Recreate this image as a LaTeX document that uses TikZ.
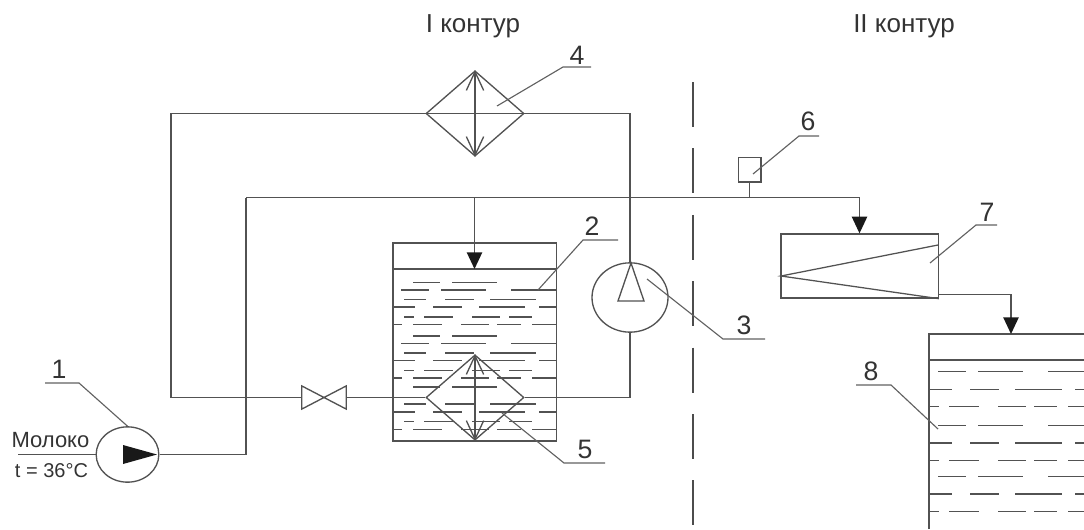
\documentclass[tikz,border=0pt]{standalone}
\usepackage{fontspec}
\setmainfont{Liberation Sans}
\usetikzlibrary{arrows.meta,shapes.geometric}

\newcommand{\liquidrow}[2]{\foreach \a/\b in #2 \draw[liquid] (\a,#1) -- (\b,#1);}
\newcommand{\rowA}{413/440,452/497}
\newcommand{\rowB}{401/429,441/486,511/556}
\newcommand{\rowC}{404/426,445/474,490/536}
\newcommand{\rowD}{393/415,433/462,479/525,539/556}
\newcommand{\rowE}{404/414,424/453,472/500,509/532}
\newcommand{\rowF}{393/402,413/442,461/489,497/521,532/556}
\newcommand{\rowG}{938/966,978/1023,1048/1084}
\newcommand{\rowH}{929/952,970/999,1015/1062,1075/1084}
\newcommand{\rowI}{929/939,949/979,998/1026,1034/1057,1068/1084}

\begin{document}
\begin{tikzpicture}[
    x=0.75pt, y=-0.75pt,
    line/.style={draw=black!68, line width=1pt},
    liquid/.style={draw=black!68, line width=0.95pt},
    leader/.style={draw=black!62, line width=0.85pt},
    flow/.style={line, -{Triangle[length=12.5pt,width=11.5pt,fill=black!90,color=black!90]}},
    twoway/.style={line, {Straight Barb[length=14pt,width=13pt]}-{Straight Barb[length=14pt,width=13pt]}},
    pump/.style={ellipse, line, inner sep=0pt},
    exchanger/.style={diamond, line, inner sep=0pt, minimum width=73.5pt, minimum height=64pt},
    num/.style={font=\fontsize{20}{20}\selectfont, text=black!80, inner sep=0pt},
    title/.style={font=\fontsize{19.5}{19.5}\selectfont, text=black!80, inner sep=0pt},
    captext/.style={font=\fontsize{15}{15}\selectfont, text=black!80, inner sep=0pt}
  ]
  \useasboundingbox (0,0) rectangle (1084,529);

  % equipment
  \node[pump, minimum width=47pt, minimum height=41.5pt] (pump1) at (127.5,454.5) {};
  \node[line, inner sep=0pt, minimum width=122.5pt, minimum height=148.5pt] (tank2) at (474.5,342) {};
  \node[pump, minimum width=57pt, minimum height=52pt] (pump3) at (630,297.5) {};
  \node[exchanger] (he4) at (475,113.5) {};
  \node[exchanger] (he5) at (475,397.5) {};
  \node[line, inner sep=0pt, minimum width=17pt, minimum height=18.5pt] (sensor6) at (749.5,169.5) {};
  \node[line, inner sep=0pt, minimum width=118pt, minimum height=48pt] (cooler7) at (859.5,266) {};
  \node[inner sep=0pt, minimum width=33pt, minimum height=17pt] (valve) at (324,397.5) {};

  % free ends
  \coordinate (inlet)   at (18,454.5);
  \coordinate (mainL)   at (246,197.5);
  \coordinate (mainT)   at (749.5,197.5);
  \coordinate (loopNW)  at (171,113.5);
  \coordinate (loopSW)  at (171,397.5);
  \coordinate (level2)  at (474.5,269);
  \coordinate (level2L) at (393,269);
  \coordinate (level2R) at (556,269);
  \coordinate (outB)    at (938,294.5);
  \coordinate (tank8NW) at (929,334);
  \coordinate (tank8NE) at (1084,334);
  \coordinate (tank8SW) at (929,529);
  \coordinate (tank8T)  at (1011,334);
  \coordinate (level8L) at (929,360);
  \coordinate (level8R) at (1084,360);
  \coordinate (sepT)    at (693,82);
  \coordinate (sepB)    at (693,529);

  % tanks
  \draw[line] (level2L) -- (level2R);
  \draw[line] (tank8SW) -- (tank8NW) -- (tank8NE);
  \draw[line] (level8L) -- (level8R);
  \foreach \y in {282.3,336,387} {\liquidrow{\y}{\rowA}}
  \foreach \y in {290,343.3} {\liquidrow{\y}{\rowB}}
  \foreach \y in {299.3,353,404} {\liquidrow{\y}{\rowC}}
  \foreach \y in {307,360.7,412} {\liquidrow{\y}{\rowD}}
  \foreach \y in {317,370.3,421.7} {\liquidrow{\y}{\rowE}}
  \foreach \y in {324.3,378,429.7} {\liquidrow{\y}{\rowF}}
  \foreach \y in {371.7,425.7,476.7} {\liquidrow{\y}{\rowG}}
  \foreach \y in {389.3,443,494} {\liquidrow{\y}{\rowH}}
  \foreach \y in {406.7,460.3,511.7} {\liquidrow{\y}{\rowI}}

  % pipes
  \draw[line] (inlet) -- (pump1.west);
  \draw[line] (pump1.east) -| (mainL);
  \draw[flow] (mainL) -| (cooler7.north);
  \draw[flow] (tank2.north |- mainL) -- (level2);
  \draw[line] (sensor6.south) -- (mainT);
  \draw[flow] (outB) -| (tank8T);
  \draw[line] (he4.west) -- (loopNW) -- (loopSW) -- (valve.west);
  \draw[line] (valve.east) -- (he5.west);
  \draw[line] (he5.east) -| (pump3.south);
  \draw[line] (pump3.north) |- (he4.east);
  \draw[line] (he4.west) -- (he4.east);
  \draw[twoway] (he4.north) -- (he4.south);
  \draw[twoway] (he5.north) -- (he5.south);

  % inner marks
  \draw[line] (valve.north west) -- (valve.south east) -- (valve.north east) -- (valve.south west) -- cycle;
  \fill[black!90] (123,445) -- (157,454.5) -- (123,464) -- cycle;
  \draw[line] (631,263) -- (644,301) -- (618,301) -- cycle;
  \draw[liquid] (938,245) -- (781,276) -- (cooler7.south east);

  % section line
  \draw[draw=black!70, line width=0.9pt, dash pattern=on 33.8pt off 16pt] (sepT) -- (sepB);

  % leaders
  \node[num] (n1) at (59,369) {1};
  \node[num] (n2) at (592,226) {2};
  \node[num] (n3) at (744,325) {3};
  \node[num] (n4) at (577,55) {4};
  \node[num] (n5) at (585,449) {5};
  \node[num] (n6) at (808,121) {6};
  \node[num] (n7) at (987,212) {7};
  \node[num] (n8) at (871,371) {8};
  \draw[leader] (45,383) -- (79,383) -- (pump1.north);
  \draw[leader] (618,240) -- (583,240) -- (538,290);
  \draw[leader] (765,339) -- (723,339) -- (647,279);
  \draw[leader] (591,67) -- (563,67) -- (497,106);
  \draw[leader] (605,463) -- (564,463) -- (502,413);
  \draw[leader] (819,136) -- (799,136) -- (753,174);
  \draw[leader] (997,225) -- (976,225) -- (930,263);
  \draw[leader] (856,385) -- (891,385) -- (938,429);

  % texts
  \node[title] (cont1) at (473,26) {I контур};
  \node[title] (cont2) at (904,26) {II контур};
  \node[captext, font=\fontsize{16.5}{16.5}\selectfont] (milk) at (50.5,440) {Молоко};
  \node[captext] (temp) at (51.5,471) {t = 36°C};
\end{tikzpicture}
\end{document}
